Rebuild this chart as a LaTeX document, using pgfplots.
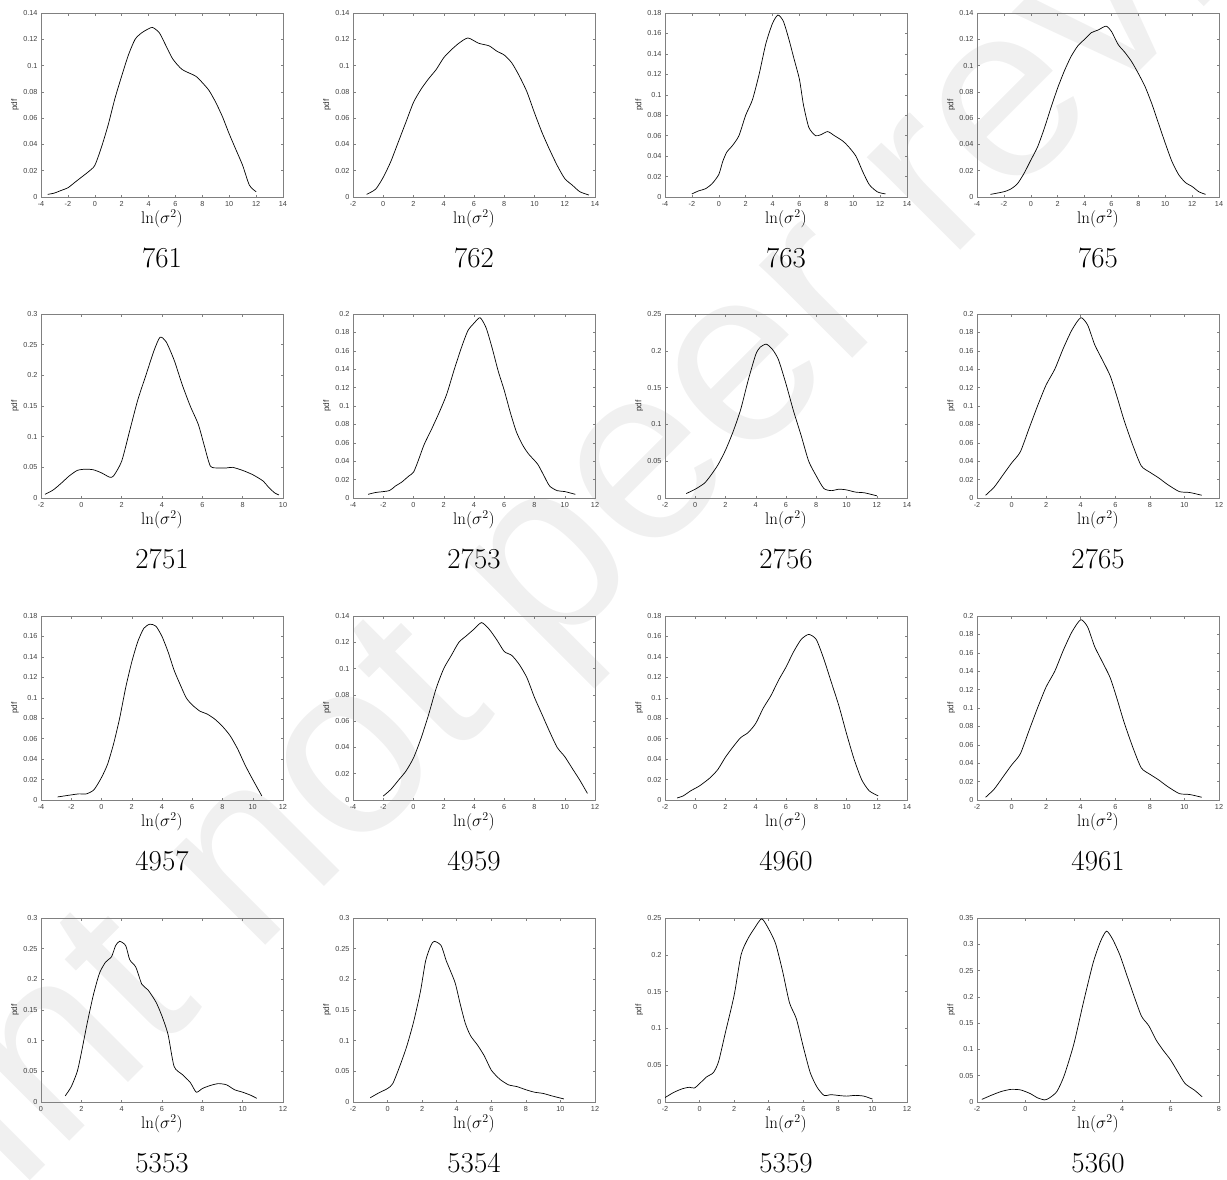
\documentclass[border=0pt]{standalone}
\usepackage{fontspec}
\usepackage{pgfplots}
\pgfplotsset{compat=1.18}
\newfontfamily\arialfont{Liberation Sans}
\pgfplotsset{
  panel/.style={
    scale only axis, width=242bp, height=184bp,
    anchor=north west,
    axis line style={black!50, line width=0.5bp},
    every tick/.style={black!50, line width=0.5bp},
    tick align=inside, major tick length=2.5bp,
    xtick distance=2, ymin=0,
    xlabel={$\ln(\sigma^2)$}, ylabel={pdf},
    tick label style={font=\arialfont\fontsize{7.3}{8}\selectfont, text=black!75},
    /pgf/number format/assume math mode=true,
    yticklabel style={/pgf/number format/fixed, /pgf/number format/precision=2},
    xticklabel style={yshift=-1bp},
    scaled y ticks=false, scaled x ticks=false,
    xlabel style={font=\fontsize{17}{19}\selectfont, at={(axis description cs:0.5,-0.12)}, anchor=center},
    ylabel style={font=\arialfont\fontsize{8.3}{9}\selectfont, text=black!80, at={(axis description cs:-0.107,0.5)}, anchor=center},
  },
  yA/.style={ytick={0,0.02,0.04,0.06,0.08,0.1,0.12,0.14}, ymax=0.14},
  yB/.style={ytick={0,0.02,0.04,0.06,0.08,0.1,0.12,0.14,0.16,0.18}, ymax=0.18},
  yC/.style={ytick={0,0.02,0.04,0.06,0.08,0.1,0.12,0.14,0.16,0.18,0.2}, ymax=0.2},
  yD/.style={ytick={0,0.05,0.1,0.15,0.2,0.25}, ymax=0.25},
  yE/.style={ytick={0,0.05,0.1,0.15,0.2,0.25,0.3}, ymax=0.3},
  yF/.style={ytick={0,0.05,0.1,0.15,0.2,0.25,0.3,0.35}, ymax=0.35},
  curve/.style={black, line width=0.7bp, smooth, tension=0.4},
}
\newcommand\ttl[2]{\node[font=\fontsize{29}{32}\selectfont, anchor=center] at ([yshift=-61bp]#1.south) {#2};}
\begin{document}
\begin{tikzpicture}
\useasboundingbox (0,0) rectangle (1227bp,-1180bp);
\begin{scope}
\clip (0,0) rectangle (1227bp,-1180bp);
\node[rotate=45, font=\arialfont\fontsize{250}{260}\selectfont, text=black!6, anchor=center] at (575bp,-545bp) {Preprint not peer reviewed};
\end{scope}
% ---------- row 1 ----------
\begin{axis}[panel, yA, name=a1, at={(41bp,-13bp)}, xmin=-4, xmax=14]
\addplot[curve] coordinates {(-3.5,0.002)(-3,0.003)(-2.5,0.005)(-2,0.007)(-1.5,0.011)(-1,0.015)(-0.5,0.019)(0,0.024)(0.5,0.038)(1,0.055)(1.5,0.075)(2,0.092)(2.5,0.108)(3,0.12)(3.5,0.125)(4,0.128)(4.3,0.129)(4.8,0.125)(5.3,0.115)(5.8,0.105)(6.5,0.097)(7.5,0.092)(8,0.087)(8.5,0.081)(9,0.072)(9.5,0.061)(10,0.048)(10.5,0.036)(11,0.024)(11.5,0.009)(12,0.004)};
\end{axis}
\ttl{a1}{761}
\begin{axis}[panel, yA, name=a2, at={(353bp,-13bp)}, xmin=-2, xmax=14]
\addplot[curve] coordinates {(-1.1,0.002)(-0.5,0.006)(0,0.015)(0.5,0.027)(1,0.042)(1.5,0.057)(2,0.072)(2.5,0.082)(3,0.09)(3.5,0.097)(4,0.106)(4.5,0.112)(5,0.117)(5.6,0.121)(6.3,0.117)(7,0.115)(7.5,0.111)(8,0.108)(8.5,0.102)(9,0.092)(9.5,0.08)(10,0.064)(10.5,0.049)(11,0.036)(11.5,0.024)(12,0.014)(12.5,0.009)(13,0.004)(13.6,0.0015)};
\end{axis}
\ttl{a2}{762}
\begin{axis}[panel, yB, name=a3, at={(665bp,-13bp)}, xmin=-4, xmax=14]
\addplot[curve] coordinates {(-2,0.003)(-1.5,0.006)(-1,0.008)(-0.5,0.013)(0,0.022)(0.3,0.035)(0.6,0.044)(1,0.05)(1.5,0.06)(2,0.08)(2.5,0.095)(3,0.12)(3.5,0.15)(4,0.17)(4.4,0.178)(4.8,0.172)(5.2,0.155)(5.6,0.135)(6,0.115)(6.3,0.09)(6.7,0.068)(7.2,0.06)(7.6,0.061)(8.1,0.064)(8.6,0.06)(9.2,0.055)(9.6,0.05)(10.2,0.04)(10.7,0.025)(11.2,0.012)(11.8,0.005)(12.4,0.003)};
\end{axis}
\ttl{a3}{763}
\begin{axis}[panel, yA, name=a4, at={(977bp,-13bp)}, xmin=-4, xmax=14]
\addplot[curve] coordinates {(-3,0.002)(-2,0.004)(-1.5,0.006)(-1,0.01)(-0.5,0.018)(0,0.028)(0.5,0.038)(1,0.052)(1.5,0.068)(2,0.083)(2.5,0.096)(3,0.107)(3.5,0.115)(4,0.12)(4.5,0.125)(5,0.127)(5.6,0.13)(6,0.126)(6.5,0.116)(7,0.11)(7.5,0.103)(8,0.094)(8.5,0.084)(9,0.071)(9.5,0.056)(10,0.041)(10.5,0.027)(11,0.017)(11.5,0.011)(12,0.008)(12.5,0.004)(13,0.002)};
\end{axis}
\ttl{a4}{765}
% ---------- row 2 ----------
\begin{axis}[panel, yE, name=b1, at={(41bp,-314bp)}, xmin=-2, xmax=10]
\addplot[curve] coordinates {(-1.8,0.006)(-1.4,0.013)(-1,0.024)(-0.6,0.036)(-0.2,0.045)(0.2,0.047)(0.6,0.046)(1,0.041)(1.4,0.034)(1.6,0.036)(2,0.06)(2.4,0.11)(2.8,0.16)(3.2,0.2)(3.6,0.24)(3.9,0.262)(4.2,0.255)(4.6,0.225)(5,0.185)(5.4,0.15)(5.8,0.12)(6.1,0.085)(6.4,0.052)(6.8,0.049)(7.2,0.049)(7.5,0.05)(8,0.045)(8.5,0.038)(9,0.028)(9.3,0.017)(9.6,0.008)(9.8,0.005)};
\end{axis}
\ttl{b1}{2751}
\begin{axis}[panel, yC, name=b2, at={(353bp,-314bp)}, xmin=-4, xmax=12]
\addplot[curve] coordinates {(-3,0.004)(-2.5,0.006)(-1.6,0.008)(-1.2,0.013)(-0.8,0.017)(-0.3,0.024)(0,0.028)(0.3,0.04)(0.7,0.058)(1.2,0.075)(1.7,0.093)(2.2,0.113)(2.7,0.14)(3.2,0.165)(3.6,0.182)(4,0.19)(4.4,0.196)(4.8,0.185)(5.2,0.163)(5.6,0.138)(6,0.117)(6.4,0.093)(6.8,0.072)(7.2,0.058)(7.6,0.048)(8.2,0.037)(8.6,0.025)(9,0.013)(9.5,0.008)(10,0.007)(10.7,0.004)};
\end{axis}
\ttl{b2}{2753}
\begin{axis}[panel, yD, name=b3, at={(665bp,-314bp)}, xmin=-2, xmax=14]
\addplot[curve] coordinates {(-0.6,0.006)(0,0.012)(0.6,0.02)(1,0.03)(1.5,0.045)(2,0.065)(2.5,0.09)(3,0.12)(3.5,0.16)(4,0.195)(4.3,0.205)(4.7,0.209)(5.1,0.202)(5.5,0.188)(6,0.155)(6.5,0.118)(7,0.085)(7.5,0.05)(8,0.03)(8.5,0.013)(9,0.01)(9.5,0.012)(10,0.011)(10.6,0.008)(11.2,0.007)(12,0.003)};
\end{axis}
\ttl{b3}{2756}
\begin{axis}[panel, yC, name=b4, at={(977bp,-314bp)}, xmin=-2, xmax=12]
\addplot[curve] coordinates {(-1.5,0.003)(-1,0.012)(-0.5,0.025)(0,0.038)(0.5,0.05)(1,0.075)(1.5,0.1)(2,0.123)(2.5,0.14)(3,0.163)(3.5,0.183)(4,0.196)(4.4,0.188)(4.8,0.167)(5.2,0.152)(5.7,0.133)(6.1,0.11)(6.5,0.085)(7,0.058)(7.5,0.035)(8,0.028)(8.5,0.022)(9,0.015)(9.7,0.007)(10.3,0.006)(11,0.003)};
\end{axis}
\ttl{b4}{2765}
% ---------- row 3 ----------
\begin{axis}[panel, yB, name=c1, at={(41bp,-616bp)}, xmin=-4, xmax=12]
\addplot[curve] coordinates {(-2.9,0.003)(-2,0.005)(-1.5,0.006)(-1,0.006)(-0.5,0.01)(0,0.022)(0.4,0.035)(0.8,0.055)(1.2,0.08)(1.6,0.11)(2,0.135)(2.4,0.155)(2.8,0.168)(3.2,0.172)(3.6,0.17)(4,0.16)(4.4,0.145)(4.8,0.127)(5.2,0.113)(5.6,0.1)(6,0.093)(6.5,0.087)(7,0.084)(7.5,0.079)(8,0.072)(8.5,0.063)(9,0.05)(9.5,0.034)(10,0.02)(10.6,0.004)};
\end{axis}
\ttl{c1}{4957}
\begin{axis}[panel, yA, name=c2, at={(353bp,-616bp)}, xmin=-4, xmax=12]
\addplot[curve] coordinates {(-2,0.003)(-1.5,0.008)(-1,0.015)(-0.5,0.022)(0,0.032)(0.5,0.047)(1,0.065)(1.5,0.085)(2,0.1)(2.5,0.11)(3,0.12)(3.5,0.125)(4,0.13)(4.5,0.135)(5,0.13)(5.5,0.122)(6,0.113)(6.5,0.11)(7,0.103)(7.5,0.093)(8,0.078)(8.5,0.065)(9,0.052)(9.5,0.04)(10,0.033)(10.5,0.024)(11,0.015)(11.5,0.005)};
\end{axis}
\ttl{c2}{4959}
\begin{axis}[panel, yB, name=c3, at={(665bp,-616bp)}, xmin=-2, xmax=14]
\addplot[curve] coordinates {(-1.2,0.002)(-0.8,0.004)(-0.3,0.009)(0.3,0.014)(1,0.022)(1.5,0.03)(2,0.042)(2.5,0.052)(3,0.061)(3.5,0.066)(4,0.075)(4.5,0.09)(5,0.102)(5.5,0.117)(6,0.13)(6.5,0.145)(7,0.157)(7.5,0.162)(8,0.157)(8.5,0.138)(9,0.115)(9.5,0.092)(10,0.065)(10.5,0.04)(11,0.02)(11.5,0.009)(12.1,0.004)};
\end{axis}
\ttl{c3}{4960}
\begin{axis}[panel, yC, name=c4, at={(977bp,-616bp)}, xmin=-2, xmax=12]
\addplot[curve] coordinates {(-1.5,0.003)(-1,0.012)(-0.5,0.025)(0,0.038)(0.5,0.05)(1,0.075)(1.5,0.1)(2,0.123)(2.5,0.14)(3,0.163)(3.5,0.183)(4,0.196)(4.4,0.188)(4.8,0.167)(5.2,0.152)(5.7,0.133)(6.1,0.11)(6.5,0.085)(7,0.058)(7.5,0.035)(8,0.028)(8.5,0.022)(9,0.015)(9.7,0.007)(10.3,0.006)(11,0.003)};
\end{axis}
\ttl{c4}{4961}
% ---------- row 4 ----------
\begin{axis}[panel, yE, name=d1, at={(41bp,-918bp)}, xmin=0, xmax=12]
\addplot[curve] coordinates {(1.2,0.01)(1.5,0.025)(1.8,0.05)(2,0.08)(2.3,0.13)(2.6,0.175)(2.9,0.21)(3.2,0.228)(3.5,0.237)(3.7,0.255)(3.9,0.262)(4.2,0.255)(4.4,0.232)(4.7,0.22)(5,0.192)(5.3,0.183)(5.7,0.163)(6,0.14)(6.3,0.11)(6.6,0.058)(7,0.045)(7.4,0.032)(7.7,0.016)(8,0.022)(8.4,0.027)(8.8,0.03)(9.2,0.028)(9.6,0.02)(10,0.016)(10.4,0.011)(10.7,0.006)};
\end{axis}
\ttl{d1}{5353}
\begin{axis}[panel, yE, name=d2, at={(353bp,-918bp)}, xmin=-2, xmax=12]
\addplot[curve] coordinates {(-1,0.007)(-0.5,0.015)(0,0.022)(0.3,0.03)(0.7,0.058)(1.1,0.09)(1.5,0.13)(1.9,0.18)(2.2,0.23)(2.5,0.255)(2.7,0.262)(3.1,0.255)(3.4,0.23)(3.9,0.195)(4.2,0.16)(4.5,0.128)(4.8,0.108)(5.2,0.093)(5.6,0.075)(6,0.052)(6.5,0.037)(7,0.028)(7.5,0.025)(8,0.02)(8.5,0.016)(9,0.014)(9.5,0.01)(10.2,0.005)};
\end{axis}
\ttl{d2}{5354}
\begin{axis}[panel, yD, name=d3, at={(665bp,-918bp)}, xmin=-2, xmax=12]
\addplot[curve] coordinates {(-2,0.006)(-1.5,0.013)(-1,0.018)(-0.6,0.02)(-0.3,0.019)(0,0.025)(0.4,0.034)(0.8,0.04)(1.1,0.055)(1.5,0.095)(2,0.145)(2.4,0.2)(2.8,0.222)(3.2,0.237)(3.6,0.249)(4,0.235)(4.4,0.215)(4.8,0.178)(5.2,0.135)(5.6,0.113)(6,0.075)(6.4,0.04)(6.8,0.02)(7.2,0.009)(7.6,0.01)(8,0.009)(8.5,0.008)(9,0.009)(9.5,0.008)(10,0.004)};
\end{axis}
\ttl{d3}{5359}
\begin{axis}[panel, yF, name=d4, at={(977bp,-918bp)}, xmin=-2, xmax=8]
\addplot[curve] coordinates {(-1.8,0.005)(-1.4,0.013)(-1,0.02)(-0.6,0.024)(-0.2,0.023)(0.2,0.016)(0.5,0.008)(0.8,0.004)(1,0.008)(1.3,0.02)(1.6,0.05)(2,0.11)(2.4,0.19)(2.8,0.265)(3.1,0.305)(3.35,0.325)(3.6,0.31)(3.9,0.28)(4.2,0.24)(4.5,0.2)(4.8,0.163)(5.1,0.145)(5.4,0.118)(5.7,0.098)(6,0.08)(6.3,0.057)(6.6,0.035)(7,0.022)(7.3,0.01)};
\end{axis}
\ttl{d4}{5360}
\end{tikzpicture}
\end{document}
